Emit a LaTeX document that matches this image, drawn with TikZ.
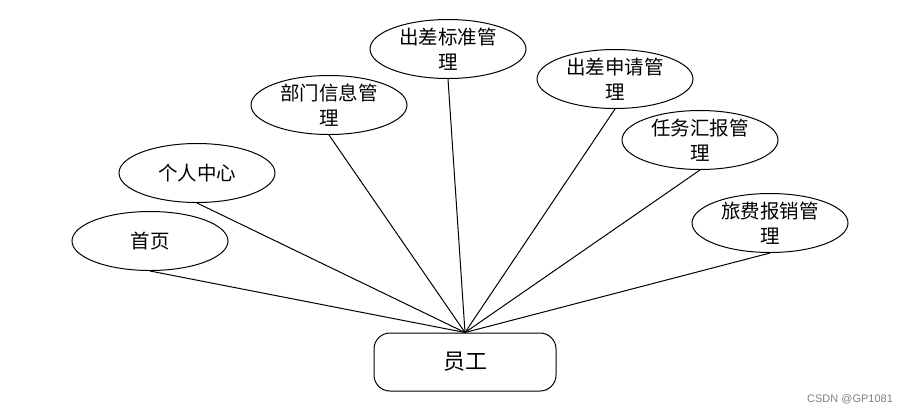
\documentclass[tikz,border=0pt]{standalone}
\usepackage{fontspec}
\newfontfamily\cjk{Noto Sans CJK SC}
\newfontfamily\wmfont{Liberation Sans}
\usetikzlibrary{shapes.geometric}
\tikzset{
  func/.style={ellipse, draw=black, line width=1pt, minimum width=156pt, minimum height=59pt, inner xsep=0pt, inner ysep=-5pt, align=center, font=\cjk\fontsize{19.5}{25}\selectfont},
  actor/.style={rectangle, rounded corners=16pt, draw=black, line width=1pt, minimum width=182pt, minimum height=58pt, font=\cjk\fontsize{22}{26}\selectfont},
  link/.style={line width=1pt}
}

\begin{document}
\begin{tikzpicture}[x=1pt, y=-1pt]
  \useasboundingbox (0,0) rectangle (909,413);
  \node[actor] (emp) at (465,362) {员工};
  \node[func] (home) at (150,241) {首页};
  \node[func] (center) at (197,173) {个人中心};
  \node[func] (dept) at (329,105) {部门信息管\\理};
  \node[func] (std) at (448,49) {出差标准管\\理};
  \node[func] (apply) at (615,79) {出差申请管\\理};
  \node[func] (report) at (700,140) {任务汇报管\\理};
  \node[func] (expense) at (770,223) {旅费报销管\\理};
  \draw[link] (home.south) -- (emp.north);
  \draw[link] (center.south) -- (emp.north);
  \draw[link] (dept.south) -- (emp.north);
  \draw[link] (std.south) -- (emp.north);
  \draw[link] (apply.south) -- (emp.north);
  \draw[link] (report.south) -- (emp.north);
  \draw[link] (expense.south) -- (emp.north);
  \node[font=\wmfont\fontsize{11}{13}\selectfont, text=gray] (mark) at (850,399) {CSDN @GP1081};
\end{tikzpicture}
\end{document}
